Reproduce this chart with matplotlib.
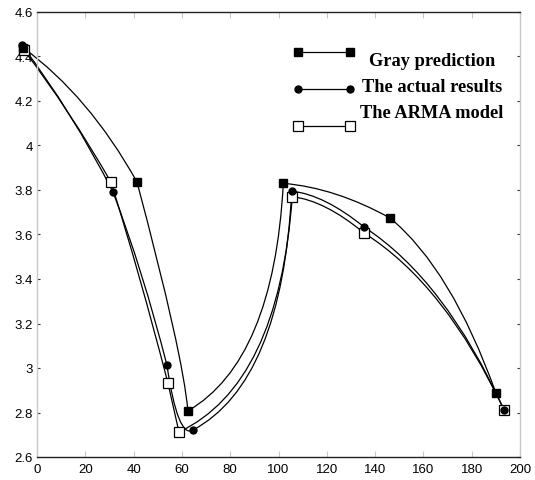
import numpy as np
import matplotlib
matplotlib.use("Agg")
import matplotlib.pyplot as plt
from matplotlib.path import Path
from matplotlib.patches import PathPatch

# values
x_gray = [-5.8, 41.4, 62.5, 102.0, 146.2, 190.0]
y_gray = [4.44, 3.836, 2.807, 3.83, 3.674, 2.888]

x_act = [-6.2, 31.5, 53.8, 64.6, 105.5, 135.4, 193.4]
y_act = [4.45, 3.79, 3.013, 2.721, 3.795, 3.634, 2.811]

x_arma = [-5.5, 30.6, 54.2, 58.8, 105.7, 135.4, 193.4]
y_arma = [4.43, 3.836, 2.933, 2.712, 3.77, 3.607, 2.811]

labels = ["Gray prediction", "The actual results", "The ARMA model"]
xticks = np.arange(0, 201, 20)
yticks = np.arange(2.6, 4.61, 0.2)

# how each connecting curve bends: control point of a quadratic bezier,
# given as fractions (along x, along y) of the segment
bend_gray = [(0.58, 0.36), (0.9, 0.75), (0.9, 0.22), (0.49, 0.13), (0.58, 0.29)]
bend_act = [(0.55, 0.45), (0.55, 0.45), (0.42, 1.14), (0.9, 0.2), (0.45, 0.1),
            (0.58, 0.29)]
bend_arma = [(0.52, 0.45), (0.5, 0.45), (0.5, 0.5), (0.88, 0.2), (0.45, 0.1),
             (0.58, 0.29)]


def curve_path(xs, ys, bends):
    verts = [(xs[0], ys[0])]
    codes = [Path.MOVETO]
    for i, (a, b) in enumerate(bends):
        x0, y0, x1, y1 = xs[i], ys[i], xs[i + 1], ys[i + 1]
        verts += [(x0 + a * (x1 - x0), y0 + b * (y1 - y0)), (x1, y1)]
        codes += [Path.CURVE3, Path.CURVE3]
    return Path(verts, codes)


fig = plt.figure(figsize=(5.35, 4.81), dpi=100)
ax = fig.add_axes([37 / 535, 23 / 481, 483 / 535, 445 / 481])

series = [
    (x_gray, y_gray, bend_gray, dict(marker="s", ms=5.5, mfc="black", mec="black")),
    (x_act, y_act, bend_act, dict(marker="o", ms=5, mfc="black", mec="black")),
    (x_arma, y_arma, bend_arma, dict(marker="s", ms=7, mfc="white", mec="black", mew=0.9)),
]

for xs, ys, bends, st in series:
    patch = PathPatch(curve_path(xs, ys, bends), facecolor="none",
                      edgecolor="black", lw=0.9, clip_on=False)
    ax.add_patch(patch)
for xs, ys, bends, st in reversed(series):
    ax.plot(xs, ys, ls="none", clip_on=False, zorder=3, **st)

ax.set_xlim(0, 200)
ax.set_ylim(2.6, 4.6)
ax.set_xticks(xticks)
ax.set_yticks(yticks)
ax.set_xticklabels([str(v) for v in xticks])
ax.set_yticklabels(["%g" % round(v, 1) for v in yticks])

for s in ["top", "bottom"]:
    ax.spines[s].set_color("#222222")
    ax.spines[s].set_linewidth(1.0)
for s in ["left", "right"]:
    ax.spines[s].set_color("#c8c8c8")
    ax.spines[s].set_linewidth(1.0)

ax.tick_params(axis="x", direction="in", length=4, color="#c8c8c8",
               top=True, labelsize=9.5, pad=4)
ax.tick_params(axis="y", direction="in", length=2, color="#333333",
               right=True, labelsize=9.5, pad=3)
for lab in ax.get_xticklabels() + ax.get_yticklabels():
    lab.set_fontfamily("Liberation Sans")

# hand-built legend (MATLAB style, markers at both line ends)
def fx(px):
    return (px - 37) / 483.0


def fy(py):
    return (458 - py) / 445.0


leg_rows = [(53, 62), (90, 87), (127, 113)]
for (ly, ty), (xs, ys, bends, st), lab in zip(leg_rows, series, labels):
    ax.plot([fx(298), fx(350)], [fy(ly), fy(ly)], color="black", lw=0.9,
            transform=ax.transAxes, clip_on=False, zorder=4, **st)
    ax.text(fx(432), fy(ty), lab, transform=ax.transAxes, ha="center",
            va="center", fontsize=13.2, fontweight="bold",
            fontfamily="Liberation Serif")

fig.savefig("out.png", dpi=100)
